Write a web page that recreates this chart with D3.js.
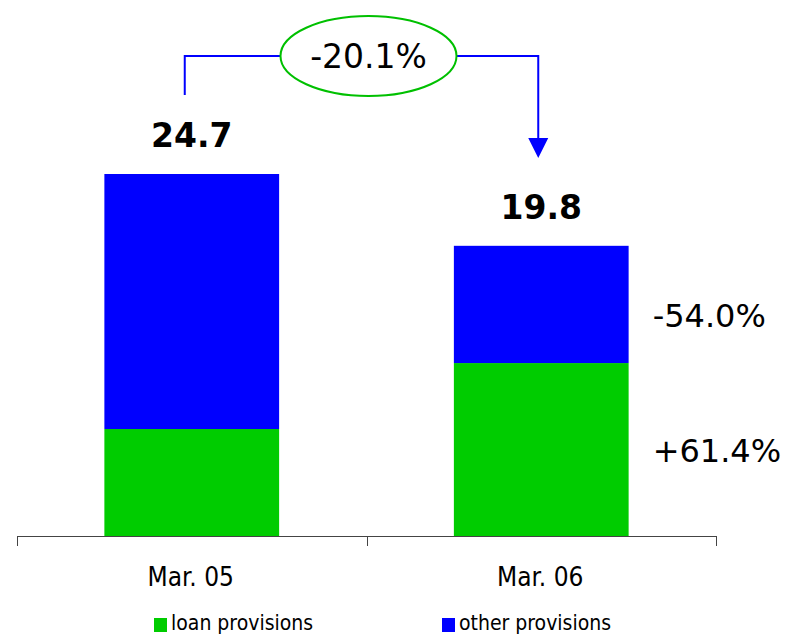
<!DOCTYPE html>
<html>
<head>
<meta charset="utf-8">
<script src="https://cdn.jsdelivr.net/npm/d3@7"></script>
<style>
  html, body { margin: 0; padding: 0; background: #fff; }
  svg { display: block; }
</style>
</head>
<body>
<svg id="chart" width="787" height="636"></svg>
<script>
// Provisions by type (EUR m)
const categories = ["Mar. 05", "Mar. 06"];
const loanProvisions = [7.3, 11.8];
const otherProvisions = [17.4, 8.0];
const totals = [24.7, 19.8];
const seriesNames = ["loan provisions", "other provisions"];
const seriesColors = ["#00cc00", "#0000ff"];
const changeLabels = ["-54.0%", "+61.4%"]; // other, loan
const totalChange = "-20.1%";

const svg = d3.select("#chart");
const baseY = 536;

const x = d3.scaleBand()
  .domain(categories)
  .range([17, 716])
  .paddingInner(0.5)
  .paddingOuter(0.25);

const y = d3.scaleLinear()
  .domain([0, 24.7])
  .range([baseY, 174]);

const stackData = categories.map((c, i) => ({
  cat: c, loan: loanProvisions[i], other: otherProvisions[i]
}));
const stack = d3.stack().keys(["loan", "other"])(stackData);

svg.append("g").selectAll("g")
  .data(stack)
  .join("g")
  .attr("fill", (d, i) => seriesColors[i])
  .selectAll("rect")
  .data(d => d)
  .join("rect")
  .attr("x", d => x(d.data.cat))
  .attr("width", x.bandwidth())
  .attr("y", d => y(d[1]))
  .attr("height", d => y(d[0]) - y(d[1]));

// Category axis with ticks at the band boundaries
const axisG = svg.append("g").attr("stroke", "#444").attr("stroke-width", 1);
const [r0, r1] = x.range();
axisG.append("line")
  .attr("x1", r0).attr("x2", r1)
  .attr("y1", baseY + 0.5).attr("y2", baseY + 0.5);
const boundaries = [r0, (r0 + r1) / 2, r1];
axisG.selectAll("line.tick")
  .data(boundaries)
  .join("line")
  .attr("class", "tick")
  .attr("x1", d => Math.round(d) + 0.5).attr("x2", d => Math.round(d) + 0.5)
  .attr("y1", baseY).attr("y2", baseY + 10);

svg.append("g").selectAll("text")
  .data(categories)
  .join("text")
  .attr("x", d => x(d) + x.bandwidth() / 2 - 1)
  .attr("y", 586)
  .attr("text-anchor", "middle")
  .attr("font-family", "DejaVu Sans Condensed, DejaVu Sans, sans-serif")
  .attr("font-size", 26)
  .attr("fill", "#000")
  .text(d => d);

// Totals above bars
svg.append("g").selectAll("text")
  .data(categories)
  .join("text")
  .attr("x", d => x(d) + x.bandwidth() / 2)
  .attr("y", (d, i) => y(totals[i]) - 27)
  .attr("text-anchor", "middle")
  .attr("font-family", "DejaVu Sans, Verdana, sans-serif")
  .attr("font-weight", "bold")
  .attr("font-size", 33)
  .attr("fill", "#000")
  .text((d, i) => totals[i].toFixed(1));

// Change labels next to the second bar
const c2 = categories[1];
const labelX = x(c2) + x.bandwidth() + 24;
svg.append("text")
  .attr("x", labelX)
  .attr("y", (y(totals[1]) + y(loanProvisions[1])) / 2 + 23)
  .attr("font-family", "DejaVu Sans, Verdana, sans-serif")
  .attr("font-size", 32)
  .attr("fill", "#000")
  .text(changeLabels[0]);
svg.append("text")
  .attr("x", labelX)
  .attr("y", (y(loanProvisions[1]) + y(0)) / 2 + 12)
  .attr("font-family", "DejaVu Sans, Verdana, sans-serif")
  .attr("font-size", 32)
  .attr("fill", "#000")
  .text(changeLabels[1]);

// Connector showing the overall change
const lx = x(categories[0]) + x.bandwidth() / 2 - 7;
const rx = x(c2) + x.bandwidth() / 2 - 3;
const cy = 56;
const ex = (lx + rx) / 2 + 7, erx = 88, ery = 40;
const ann = svg.append("g");
ann.append("path")
  .attr("d", `M${lx},95 V${cy} H${ex - erx}`)
  .attr("fill", "none").attr("stroke", "#0000ff").attr("stroke-width", 2);
ann.append("path")
  .attr("d", `M${ex + erx},${cy} H${rx} V140`)
  .attr("fill", "none").attr("stroke", "#0000ff").attr("stroke-width", 2);
ann.append("path")
  .attr("d", `M${rx - 10},138 L${rx + 10},138 L${rx},158 Z`)
  .attr("fill", "#0000ff");
ann.append("ellipse")
  .attr("cx", ex).attr("cy", cy)
  .attr("rx", erx).attr("ry", ery)
  .attr("fill", "#fff").attr("stroke", "#00c000").attr("stroke-width", 2);
ann.append("text")
  .attr("x", ex).attr("y", cy + 12)
  .attr("text-anchor", "middle")
  .attr("font-family", "DejaVu Sans, Verdana, sans-serif")
  .attr("font-size", 33)
  .attr("fill", "#000")
  .text(totalChange);

// Legend
const legend = svg.append("g").selectAll("g")
  .data(seriesNames)
  .join("g")
  .attr("transform", (d, i) => `translate(${[154, 442][i]},0)`);
legend.append("rect")
  .attr("x", 0).attr("y", 618)
  .attr("width", 13).attr("height", 14)
  .attr("fill", (d, i) => seriesColors[i]);
legend.append("text")
  .attr("x", 17).attr("y", 630)
  .attr("font-family", "DejaVu Sans Condensed, DejaVu Sans, sans-serif")
  .attr("font-size", 21)
  .attr("fill", "#000")
  .text(d => d);
</script>
</body>
</html>
